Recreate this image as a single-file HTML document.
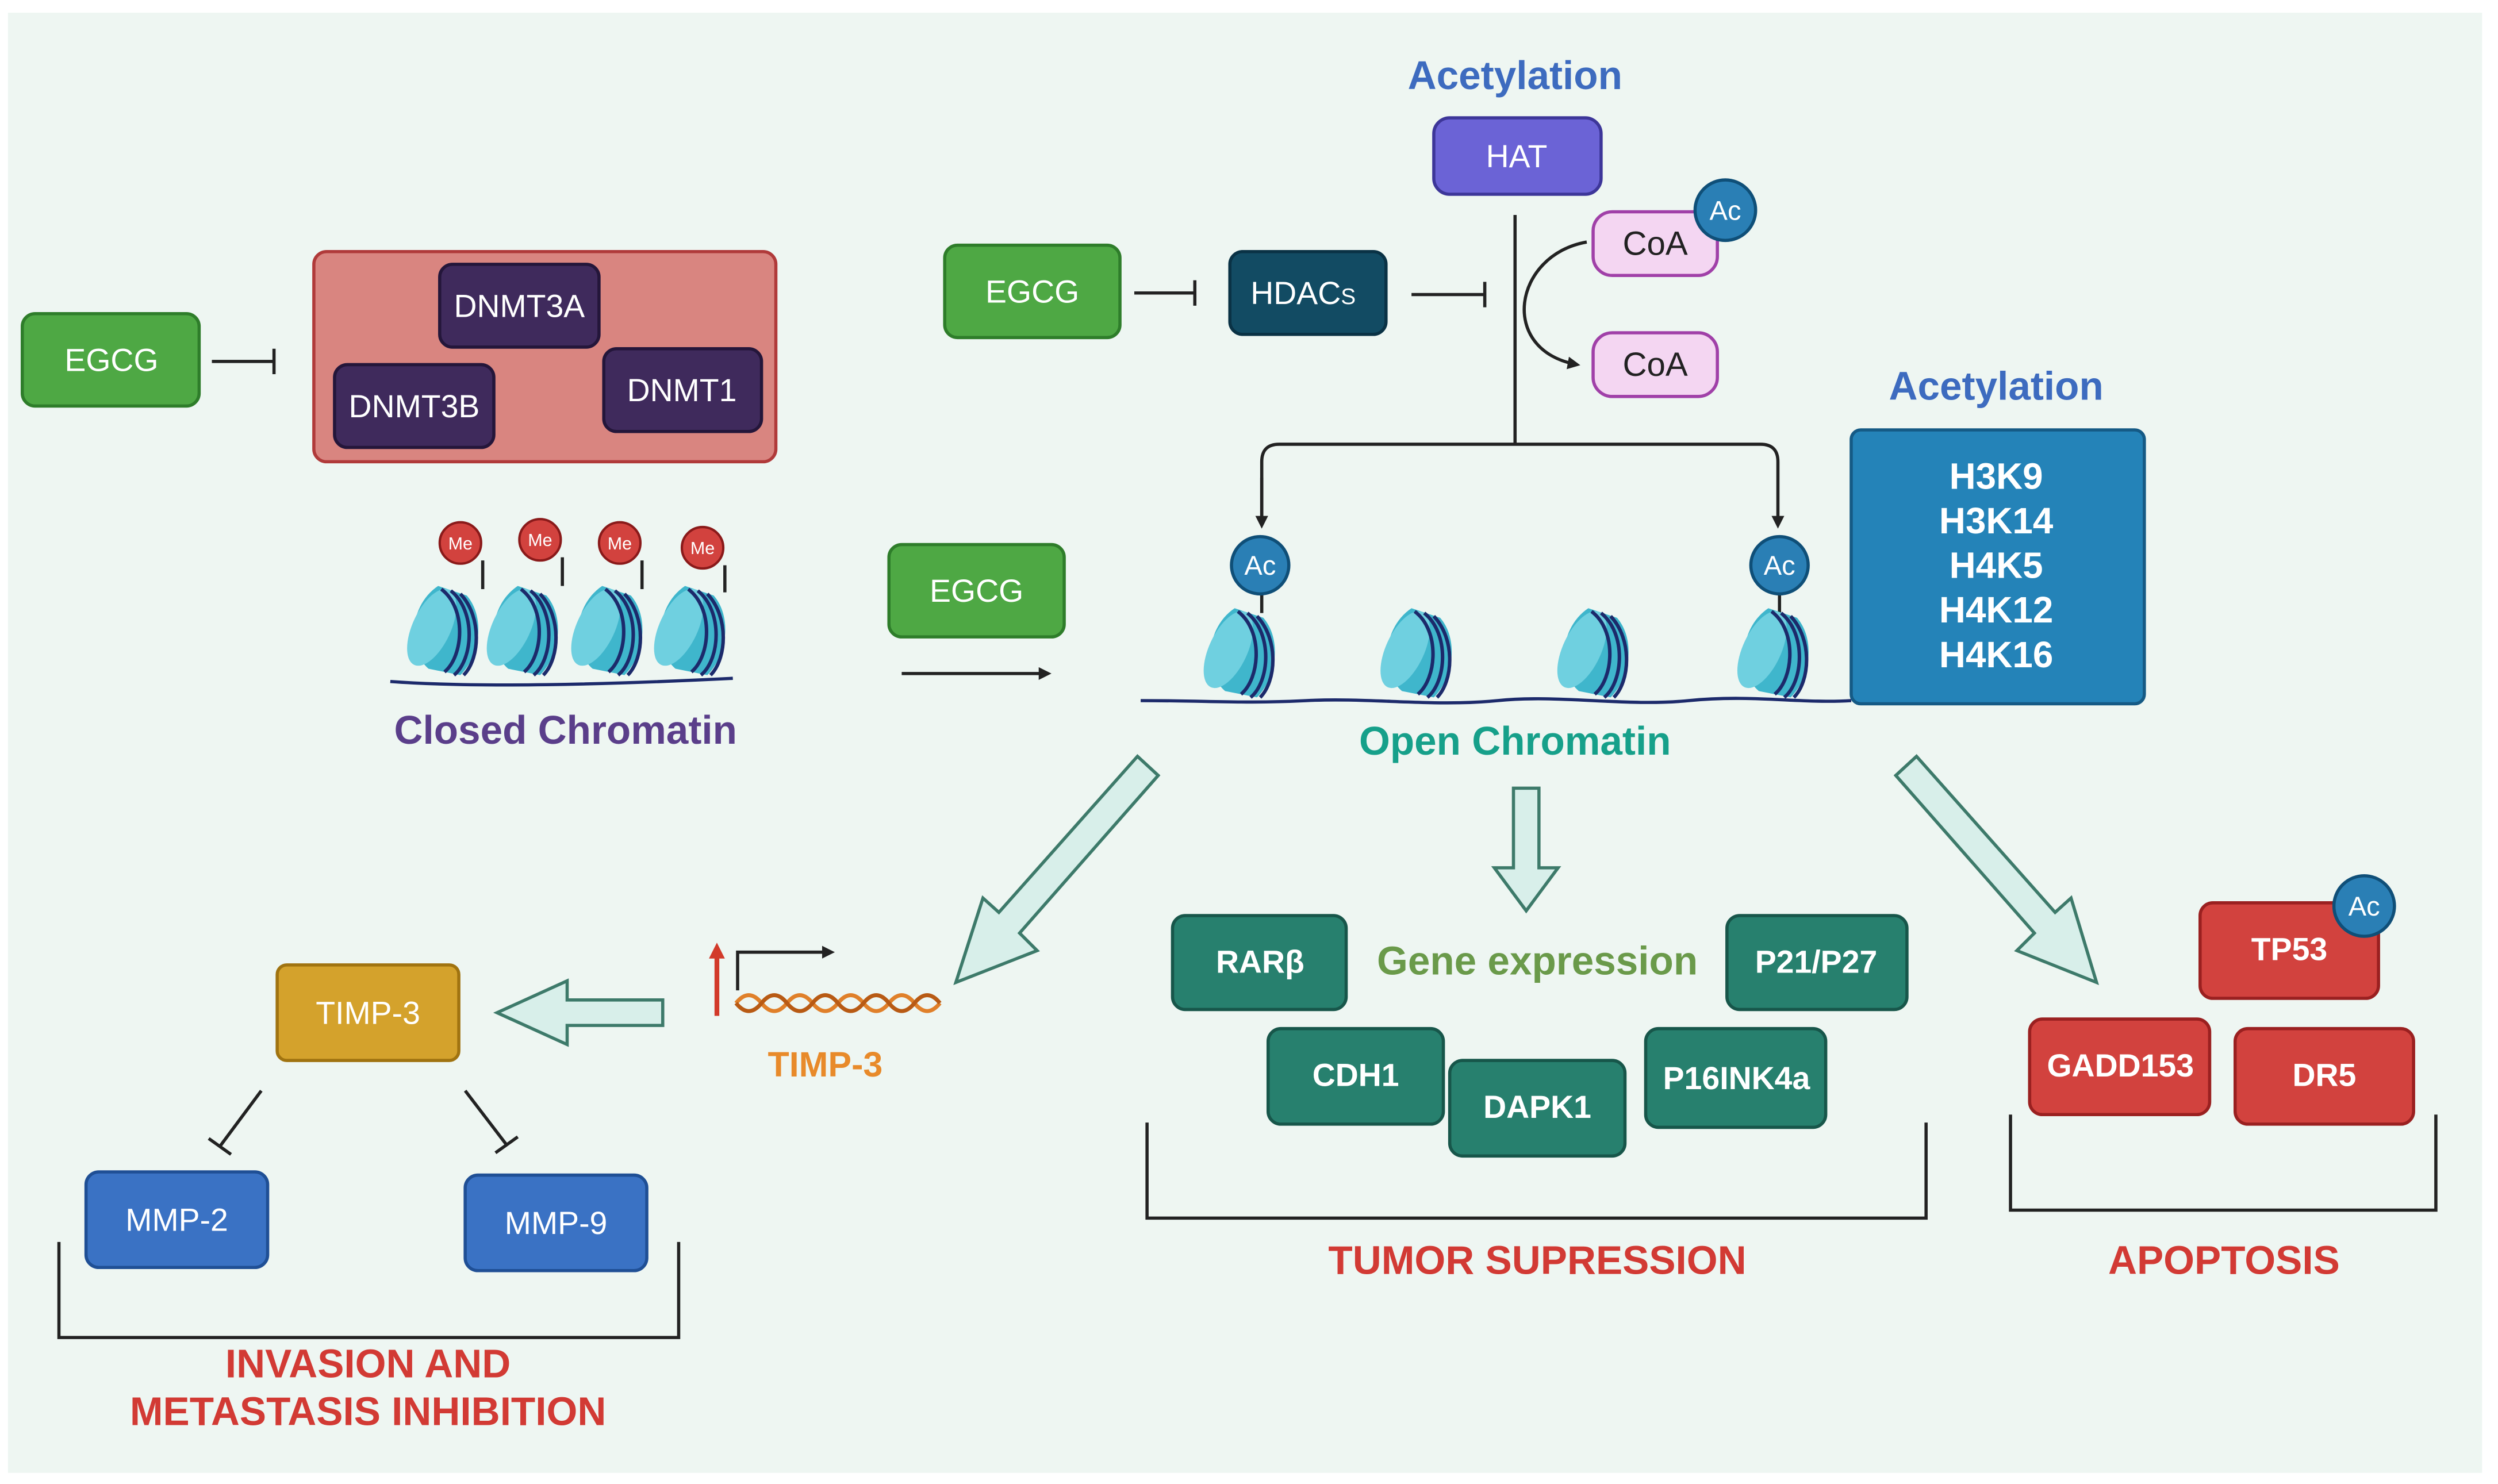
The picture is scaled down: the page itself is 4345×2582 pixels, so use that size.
<!DOCTYPE html>
<html><head><meta charset="utf-8"><style>
html,body{margin:0;padding:0;background:#fff}
svg{display:block}
text{font-family:"Liberation Sans",Arial,sans-serif}
</style></head><body>
<svg width="4345" height="2582" viewBox="0 0 1568 932" preserveAspectRatio="none" xmlns="http://www.w3.org/2000/svg">
<defs>
<marker id="ah" markerWidth="8" markerHeight="8" refX="6" refY="4" orient="auto" markerUnits="userSpaceOnUse"><path d="M0,0 L8,4 L0,8 z" fill="#222"/></marker>
<marker id="ahr" markerWidth="10" markerHeight="10" refX="6" refY="5" orient="auto" markerUnits="userSpaceOnUse"><path d="M0,0 L10,5 L0,10 z" fill="#d23a2a"/></marker>
<g id="nuc">
<path d="M-6,22 C-20,10 -18,-18 0,-30 L18,-24 C30,-10 26,14 14,26 Z" fill="#3fb6cc"/>
<ellipse cx="-4" cy="-4" rx="12" ry="26" transform="rotate(25 -4 -4)" fill="#6fd0e0"/>
<path d="M2,-28 C18,-16 16,14 4,24 M8,-27 C24,-14 22,16 10,26 M14,-25 C28,-10 26,16 16,26" stroke="#1c2a6b" stroke-width="2.2" fill="none"/>
</g>
</defs>
<rect x="0" y="0" width="1568" height="932" fill="#fff"/>
<rect x="5" y="8" width="1553" height="917" fill="#eef6f2"/>

<g stroke-width="2">
<rect x="14" y="197" width="111" height="58" rx="8" fill="#4ea844" stroke="#2e7d2a"/>
<rect x="593" y="154" width="110" height="58" rx="8" fill="#4ea844" stroke="#2e7d2a"/>
<rect x="558" y="342" width="110" height="58" rx="8" fill="#4ea844" stroke="#2e7d2a"/>
<rect x="197" y="158" width="290" height="132" rx="8" fill="#d98580" stroke="#b03a3a"/>
<rect x="276" y="166" width="100" height="52" rx="8" fill="#3f2a5c" stroke="#24163a"/>
<rect x="210" y="229" width="100" height="52" rx="8" fill="#3f2a5c" stroke="#24163a"/>
<rect x="379" y="219" width="99" height="52" rx="8" fill="#3f2a5c" stroke="#24163a"/>
<rect x="772" y="158" width="98" height="52" rx="8" fill="#124b63" stroke="#0a3245"/>
<rect x="900" y="74" width="105" height="48" rx="10" fill="#6b63d6" stroke="#3d3699"/>
<rect x="1000" y="133" width="78" height="40" rx="12" fill="#f4d6f2" stroke="#a040a8"/>
<rect x="1000" y="209" width="78" height="40" rx="12" fill="#f4d6f2" stroke="#a040a8"/>
<rect x="1162" y="270" width="184" height="172" rx="6" fill="#2483b8" stroke="#155a85"/>
<rect x="174" y="606" width="114" height="60" rx="6" fill="#d4a22c" stroke="#a07310"/>
<rect x="54" y="736" width="114" height="60" rx="8" fill="#3a72c4" stroke="#1f4f95"/>
<rect x="292" y="738" width="114" height="60" rx="8" fill="#3a72c4" stroke="#1f4f95"/>
<rect x="736" y="575" width="109" height="59" rx="8" fill="#27806e" stroke="#17564a"/>
<rect x="1084" y="575" width="113" height="59" rx="8" fill="#27806e" stroke="#17564a"/>
<rect x="796" y="646" width="110" height="60" rx="8" fill="#27806e" stroke="#17564a"/>
<rect x="910" y="666" width="110" height="60" rx="8" fill="#27806e" stroke="#17564a"/>
<rect x="1033" y="646" width="113" height="62" rx="8" fill="#27806e" stroke="#17564a"/>
<rect x="1381" y="567" width="112" height="60" rx="8" fill="#d2423e" stroke="#9a2020"/>
<rect x="1274" y="640" width="113" height="60" rx="8" fill="#d2423e" stroke="#9a2020"/>
<rect x="1403" y="646" width="112" height="60" rx="8" fill="#d2423e" stroke="#9a2020"/>
</g>

<g stroke="#222" stroke-width="2" fill="none">
<path d="M133,227 H172 M172,219 V235"/>
<path d="M712,184 H750 M750,176 V192"/>
<path d="M886,185 H932 M932,177 V193"/>
<path d="M951,135 V279"/>
<path d="M792,330 V290 Q792,279 803,279 H1105 Q1116,279 1116,290 V330" marker-end="url(#ah)"/>
<path d="M792,300 V330" marker-end="url(#ah)"/>
<path d="M996,152 C950,160 940,220 990,229" marker-end="url(#ah)"/>
<path d="M566,423 H658" marker-end="url(#ah)"/>
<path d="M164,685 L138,720 M131,715 L145,725"/>
<path d="M292,685 L318,719 M311,724 L325,714"/>
<path d="M463,622 V598 H522" marker-end="url(#ah)"/>
<path d="M37,780 V840 H426 V780"/>
<path d="M720,705 V765 H1209 V705"/>
<path d="M1262,700 V760 H1529 V700"/>
<path d="M792,372 V385 M1117,372 V385 M303,352 V370 M353,350 V368 M403,352 V370 M455,355 V372"/>
</g>
<path d="M450,638 V596" stroke="#d23a2a" stroke-width="3" marker-end="url(#ahr)"/>

<path d="M462,630 q8,-10 16,0 t16,0 t16,0 t16,0 t16,0 t16,0 t16,0 t16,0" stroke="#e0802a" stroke-width="2.5" fill="none"/>
<path d="M462,630 q8,10 16,0 t16,0 t16,0 t16,0 t16,0 t16,0 t16,0 t16,0" stroke="#b85a14" stroke-width="2.5" fill="none"/>

<path d="M245,428 C300,432 380,430 460,426" stroke="#1c2a6b" stroke-width="2" fill="none"/>
<path d="M716,440 C760,440 780,442 820,440 S900,444 940,440 S1020,444 1060,440 S1130,442 1162,440" stroke="#1c2a6b" stroke-width="2" fill="none"/>
<use href="#nuc" x="275" y="398"/>
<use href="#nuc" x="325" y="398"/>
<use href="#nuc" x="378" y="398"/>
<use href="#nuc" x="430" y="398"/>
<use href="#nuc" x="775" y="412"/>
<use href="#nuc" x="886" y="412"/>
<use href="#nuc" x="997" y="412"/>
<use href="#nuc" x="1110" y="412"/>

<g stroke="#8a1a1a" stroke-width="1.5" fill="#d2423e">
<circle cx="289" cy="341" r="13"/><circle cx="339" cy="339" r="13"/><circle cx="389" cy="341" r="13"/><circle cx="441" cy="344" r="13"/>
</g>
<g fill="#fff" font-size="11" text-anchor="middle">
<text x="289" y="345">Me</text><text x="339" y="343">Me</text><text x="389" y="345">Me</text><text x="441" y="348">Me</text>
</g>
<g stroke="#0f4f78" stroke-width="2" fill="#2a7fb5">
<circle cx="1083" cy="132" r="19"/><circle cx="791" cy="355" r="18"/><circle cx="1117" cy="355" r="18"/><circle cx="1484" cy="569" r="19"/>
</g>
<g fill="#fff" font-size="17" text-anchor="middle">
<text x="1083" y="138">Ac</text><text x="791" y="361">Ac</text><text x="1117" y="361">Ac</text><text x="1484" y="575">Ac</text>
</g>

<g fill="#d8efea" stroke="#3d7a6a" stroke-width="2">
<path d="M727,487 L714,475 L627,573 L617,564 L600,617 L651,597 L640,586 Z"/>
<path d="M950,495 H966 V545 H978 L958,572 L938,545 H950 Z"/>
<path d="M1190,487 L1203,475 L1290,573 L1300,564 L1316,617 L1266,597 L1277,586 Z"/>
<path d="M416,628 V644 H356 V656 L312,636 L356,616 V628 Z"/>
</g>

<g fill="#fff" font-size="20" text-anchor="middle">
<text x="70" y="233">EGCG</text>
<text x="648" y="190">EGCG</text>
<text x="613" y="378">EGCG</text>
<text x="326" y="199">DNMT3A</text>
<text x="260" y="262">DNMT3B</text>
<text x="428" y="252">DNMT1</text>
<text x="818" y="191">HDAC<tspan font-size="14">S</tspan></text>
<text x="952" y="105">HAT</text>
<text x="231" y="643">TIMP-3</text>
<text x="111" y="773">MMP-2</text>
<text x="349" y="775">MMP-9</text>
</g>
<g fill="#222" font-size="21" text-anchor="middle">
<text x="1039" y="160">CoA</text><text x="1039" y="236">CoA</text>
</g>
<g fill="#fff" font-size="20" font-weight="bold" text-anchor="middle">
<text x="791" y="611">RARβ</text>
<text x="1140" y="611">P21/P27</text>
<text x="851" y="682">CDH1</text>
<text x="965" y="702">DAPK1</text>
<text x="1090" y="684">P16INK4a</text>
<text x="1437" y="603">TP53</text>
<text x="1331" y="676">GADD153</text>
<text x="1459" y="682">DR5</text>
</g>
<g fill="#fff" font-size="23" font-weight="bold" text-anchor="middle">
<text x="1253" y="307">H3K9</text><text x="1253" y="335">H3K14</text><text x="1253" y="363">H4K5</text><text x="1253" y="391">H4K12</text><text x="1253" y="419">H4K16</text>
</g>

<g font-weight="bold" text-anchor="middle" font-size="25">
<text x="951" y="56" fill="#3d6bbf">Acetylation</text>
<text x="1253" y="251" fill="#3d6bbf">Acetylation</text>
<text x="355" y="467" fill="#5a3e8a">Closed Chromatin</text>
<text x="951" y="474" fill="#16a08a">Open Chromatin</text>
<text x="965" y="612" fill="#6a9a4a">Gene expression</text>
<text x="518" y="676" fill="#e88a2a" font-size="22">TIMP-3</text>
<text x="965" y="800" fill="#d23a34">TUMOR SUPRESSION</text>
<text x="1396" y="800" fill="#d23a34">APOPTOSIS</text>
<text x="231" y="865" fill="#d23a34">INVASION AND</text>
<text x="231" y="895" fill="#d23a34">METASTASIS INHIBITION</text>
</g>
</svg>
</body></html>
